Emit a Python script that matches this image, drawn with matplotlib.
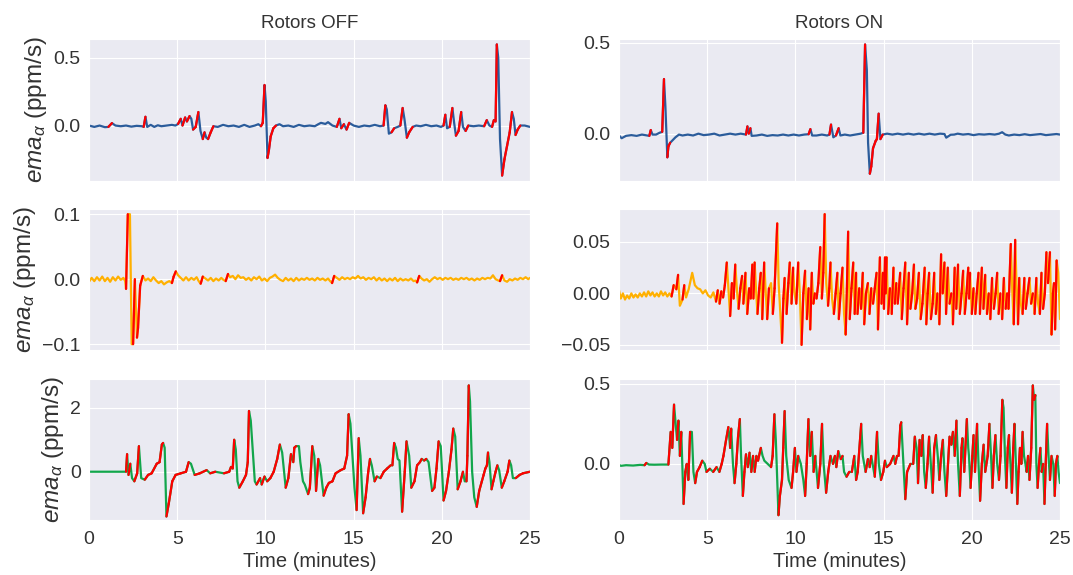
import numpy as np
import matplotlib.pyplot as plt
import seaborn as sns
from matplotlib.collections import LineCollection

# (time in minutes, ema value)
off_top = [(0.0, 0.0), (0.3, -0.01), (0.6, 0.0), (0.9, -0.012), (1.1, -0.01), (1.3, 0.018), (1.5, 0.0),
           (1.8, -0.005), (2.1, 0.0), (2.4, -0.008), (2.7, -0.002), (3.0, -0.005), (3.1, -0.01), (3.2, 0.065),
           (3.3, -0.01), (3.5, 0.005), (3.7, -0.01), (3.9, 0.002), (4.1, -0.005), (4.4, 0.0), (4.7, 0.005),
           (4.9, 0.0), (5.05, 0.012), (5.2, 0.05), (5.3, 0.0), (5.45, 0.06), (5.55, 0.03), (5.7, 0.07),
           (5.8, 0.05), (5.9, -0.03), (6.05, -0.01), (6.2, 0.1), (6.32, -0.04), (6.45, -0.1), (6.55, -0.05),
           (6.65, -0.09), (6.75, -0.1), (6.9, -0.05), (7.05, -0.005), (7.3, -0.01), (7.6, 0.005), (7.9, -0.005),
           (8.2, 0.0), (8.5, -0.01), (8.8, 0.005), (9.1, -0.01), (9.4, 0.0), (9.6, 0.01), (9.75, -0.005),
           (9.85, 0.02), (9.95, 0.3), (10.02, 0.18), (10.12, -0.24), (10.2, -0.18), (10.3, -0.08), (10.45, -0.02),
           (10.6, 0.0), (10.8, 0.01), (11.0, -0.005), (11.3, 0.0), (11.6, -0.01), (11.9, 0.005), (12.2, -0.005),
           (12.5, 0.0), (12.8, -0.005), (13.0, 0.01), (13.15, 0.02), (13.4, 0.012), (13.55, 0.025), (13.8, 0.0),
           (14.05, -0.01), (14.2, 0.05), (14.3, -0.02), (14.45, 0.01), (14.6, -0.03), (14.75, 0.02), (15.0, 0.0),
           (15.3, -0.01), (15.6, 0.0), (15.9, -0.005), (16.2, 0.005), (16.5, -0.005), (16.7, 0.0), (16.8, 0.15),
           (16.88, 0.12), (17.0, -0.06), (17.15, -0.05), (17.3, -0.02), (17.5, -0.01), (17.65, 0.0), (17.78, 0.13),
           (17.88, 0.05), (18.02, -0.09), (18.15, -0.05), (18.35, -0.01), (18.55, 0.0), (18.8, -0.005),
           (19.1, 0.005), (19.4, -0.005), (19.7, 0.0), (19.95, -0.01), (20.1, 0.0), (20.2, 0.08), (20.3, -0.02),
           (20.45, -0.01), (20.6, 0.13), (20.7, 0.02), (20.8, -0.075), (20.95, -0.04), (21.1, 0.1), (21.2, -0.01),
           (21.35, -0.04), (21.5, 0.0), (21.8, -0.005), (22.1, 0.0), (22.4, -0.005), (22.55, 0.04), (22.7, 0.0),
           (22.85, -0.01), (22.95, 0.04), (23.05, 0.03), (23.12, 0.6), (23.2, 0.5), (23.3, -0.1), (23.42, -0.37),
           (23.55, -0.25), (23.7, -0.15), (23.85, -0.05), (23.98, 0.1), (24.08, 0.05), (24.18, -0.07),
           (24.3, -0.03), (24.45, 0.0), (24.7, 0.0), (25.0, -0.01)]

on_top = [(0.0, -0.01), (0.15, -0.025), (0.4, -0.012), (0.7, -0.008), (1.0, -0.012), (1.3, -0.005), (1.6, -0.01),
          (1.72, -0.012), (1.8, 0.02), (1.9, -0.005), (2.1, -0.005), (2.3, 0.005), (2.45, 0.01), (2.55, 0.3),
          (2.63, 0.15), (2.74, -0.13), (2.8, -0.07), (2.9, -0.05), (3.05, -0.035), (3.2, -0.02), (3.4, -0.005),
          (3.6, -0.01), (3.9, -0.005), (4.2, -0.01), (4.5, 0.0), (4.8, -0.008), (5.1, -0.005), (5.4, 0.0),
          (5.7, -0.01), (6.0, -0.005), (6.3, 0.0), (6.6, -0.005), (6.9, 0.0), (7.2, -0.005), (7.28, 0.04),
          (7.36, 0.0), (7.45, 0.03), (7.52, -0.012), (7.8, -0.01), (8.1, -0.005), (8.4, -0.012), (8.7, -0.008),
          (9.0, -0.01), (9.3, -0.005), (9.6, -0.01), (9.9, -0.005), (10.2, -0.01), (10.5, -0.005), (10.75, -0.003),
          (10.85, 0.025), (10.95, -0.01), (11.2, -0.01), (11.5, -0.005), (11.8, -0.01), (11.93, -0.005),
          (12.02, 0.05), (12.15, -0.02), (12.3, -0.01), (12.45, 0.03), (12.55, -0.01), (12.8, -0.005),
          (13.1, -0.01), (13.4, -0.005), (13.7, 0.0), (13.85, 0.005), (13.95, 0.49), (14.05, 0.35), (14.12, -0.05),
          (14.22, -0.22), (14.3, -0.18), (14.4, -0.08), (14.55, -0.04), (14.62, -0.03), (14.72, 0.11),
          (14.82, -0.03), (14.95, -0.005), (15.2, 0.0), (15.5, -0.005), (15.8, 0.0), (16.1, -0.005), (16.4, 0.0),
          (16.7, -0.005), (17.0, 0.0), (17.3, -0.005), (17.6, 0.0), (17.9, -0.005), (18.2, 0.0), (18.45, -0.002),
          (18.55, -0.022), (18.8, -0.006), (19.0, -0.005), (19.2, 0.0), (19.5, -0.005), (19.8, -0.002),
          (20.1, -0.008), (20.4, -0.003), (20.7, -0.005), (21.0, -0.002), (21.3, -0.005), (21.55, 0.0),
          (21.72, 0.008), (21.9, -0.005), (22.1, -0.01), (22.4, -0.005), (22.7, -0.008), (23.0, -0.003),
          (23.3, -0.008), (23.6, -0.005), (23.9, -0.002), (24.2, -0.008), (24.5, -0.005), (24.8, -0.002),
          (25.0, -0.005)]

off_mid = [(0.0, -0.004), (0.15, 0.002), (0.3, -0.003), (0.45, 0.003), (0.6, -0.002), (0.75, 0.004), (0.9, -0.003),
           (1.05, 0.002), (1.2, -0.004), (1.35, 0.003), (1.5, -0.002), (1.65, 0.004), (1.8, -0.001), (1.95, 0.002),
           (2.05, -0.003), (2.1, -0.015), (2.2, 0.1), (2.32, 0.1), (2.42, -0.1), (2.5, -0.1), (2.6, 0.0),
           (2.72, -0.09), (2.78, -0.075), (2.9, -0.01), (3.05, 0.005), (3.2, -0.002), (3.35, 0.001), (3.5, -0.003),
           (3.65, 0.003), (3.8, -0.002), (3.95, -0.006), (4.1, -0.003), (4.25, -0.008), (4.4, -0.005),
           (4.55, -0.003), (4.7, -0.006), (4.8, 0.004), (4.92, 0.012), (5.05, 0.006), (5.2, 0.002), (5.35, -0.002),
           (5.5, 0.003), (5.65, -0.002), (5.8, 0.002), (5.95, -0.001), (6.1, 0.003), (6.22, -0.003), (6.33, -0.007),
           (6.45, 0.004), (6.6, 0.001), (6.75, -0.002), (6.9, 0.002), (7.05, -0.003), (7.2, 0.001), (7.35, -0.002),
           (7.5, 0.002), (7.62, -0.001), (7.75, -0.003), (7.88, 0.008), (8.0, 0.003), (8.15, 0.005), (8.3, 0.0),
           (8.45, 0.006), (8.6, 0.002), (8.75, 0.003), (8.9, -0.001), (9.05, 0.002), (9.2, -0.002), (9.35, 0.003),
           (9.5, 0.0), (9.65, 0.004), (9.8, -0.002), (9.95, 0.001), (10.1, -0.003), (10.25, 0.002), (10.4, 0.004),
           (10.55, 0.007), (10.7, 0.002), (10.85, -0.001), (11.0, -0.003), (11.15, 0.002), (11.3, -0.002),
           (11.45, 0.001), (11.6, -0.003), (11.75, 0.002), (11.9, -0.002), (12.05, 0.001), (12.2, -0.001),
           (12.35, 0.002), (12.5, -0.001), (12.65, 0.001), (12.8, -0.002), (12.95, 0.002), (13.1, -0.001),
           (13.25, 0.001), (13.4, -0.002), (13.55, 0.001), (13.67, -0.003), (13.78, -0.006), (13.9, 0.005),
           (14.05, 0.002), (14.2, -0.001), (14.35, 0.003), (14.5, 0.0), (14.65, 0.002), (14.8, 0.0), (14.95, 0.003),
           (15.1, 0.001), (15.25, 0.005), (15.4, 0.001), (15.55, 0.003), (15.7, -0.001), (15.85, 0.002),
           (16.0, 0.0), (16.15, 0.003), (16.3, -0.002), (16.45, 0.002), (16.6, -0.002), (16.75, 0.001),
           (16.9, -0.003), (17.05, 0.001), (17.2, -0.002), (17.35, 0.002), (17.5, -0.003), (17.65, 0.001),
           (17.8, -0.002), (17.95, 0.0), (18.1, -0.002), (18.25, 0.001), (18.4, -0.003), (18.5, -0.002),
           (18.6, -0.005), (18.72, 0.005), (18.85, 0.001), (19.0, -0.002), (19.15, 0.0), (19.3, -0.004),
           (19.45, 0.0), (19.6, 0.003), (19.75, 0.0), (19.9, 0.002), (20.05, -0.001), (20.2, 0.002), (20.35, 0.0),
           (20.5, 0.002), (20.65, -0.001), (20.8, 0.001), (20.95, -0.001), (21.1, 0.002), (21.25, 0.0),
           (21.4, 0.002), (21.55, -0.001), (21.7, 0.001), (21.85, -0.002), (22.0, 0.001), (22.15, -0.001),
           (22.3, 0.002), (22.45, 0.0), (22.6, 0.002), (22.75, 0.001), (22.9, 0.006), (23.05, 0.0), (23.2, -0.002),
           (23.3, -0.003), (23.42, 0.006), (23.55, -0.002), (23.7, -0.004), (23.85, 0.0), (24.0, -0.002),
           (24.15, 0.001), (24.3, -0.001), (24.45, 0.002), (24.6, 0.0), (24.75, 0.003), (24.9, 0.0), (25.0, 0.002)]

on_mid = [(0.0, 0.003), (0.1, -0.005), (0.22, 0.0), (0.34, -0.006), (0.46, -0.002), (0.58, -0.005), (0.7, 0.0),
          (0.82, -0.004), (0.94, -0.001), (1.06, -0.004), (1.18, 0.0), (1.3, -0.003), (1.42, 0.001), (1.54, -0.003),
          (1.66, 0.002), (1.78, -0.002), (1.9, 0.001), (2.02, -0.003), (2.14, 0.0), (2.26, -0.003), (2.38, 0.002),
          (2.5, -0.002), (2.62, 0.001), (2.74, -0.003), (2.86, 0.0), (2.98, -0.003), (3.1, 0.008), (3.25, 0.004),
          (3.35, 0.018), (3.45, -0.012), (3.6, -0.006), (3.7, 0.008), (3.8, -0.004), (3.95, 0.004), (4.15, 0.02),
          (4.3, 0.008), (4.45, 0.005), (4.6, 0.004), (4.75, 0.0), (4.9, 0.003), (5.05, -0.002), (5.2, -0.004),
          (5.35, 0.001), (5.5, -0.008), (5.6, 0.003), (5.7, -0.01), (5.8, 0.002), (5.9, -0.004), (6.0, 0.008),
          (6.11, 0.03), (6.2, 0.005), (6.3, -0.022), (6.4, 0.01), (6.5, -0.005), (6.59, 0.028), (6.7, 0.0),
          (6.78, -0.015), (6.88, 0.005), (6.98, 0.017), (7.05, -0.01), (7.17, 0.02), (7.27, -0.02), (7.38, 0.005),
          (7.47, -0.005), (7.56, 0.028), (7.62, -0.005), (7.69, 0.03), (7.78, 0.0), (7.85, -0.02), (7.95, 0.005),
          (8.04, 0.02), (8.12, -0.025), (8.23, 0.03), (8.32, 0.0), (8.4, -0.025), (8.5, 0.005), (8.62, 0.01),
          (8.72, -0.02), (8.82, 0.005), (8.97, 0.068), (9.05, 0.01), (9.15, -0.02), (9.24, -0.048), (9.32, -0.005),
          (9.39, 0.015), (9.5, -0.02), (9.6, 0.01), (9.68, 0.03), (9.78, -0.01), (9.87, 0.025), (9.95, 0.0),
          (10.05, -0.01), (10.16, 0.03), (10.25, 0.0), (10.35, -0.05), (10.45, 0.0), (10.55, 0.022),
          (10.65, -0.025), (10.75, 0.005), (10.84, -0.035), (10.93, 0.02), (11.02, -0.01), (11.1, 0.0),
          (11.2, -0.005), (11.3, 0.01), (11.41, 0.045), (11.5, -0.005), (11.58, 0.02), (11.66, 0.077),
          (11.75, 0.01), (11.85, -0.012), (11.92, 0.005), (11.99, 0.03), (12.08, -0.005), (12.18, -0.02),
          (12.28, 0.0), (12.38, 0.02), (12.46, -0.025), (12.56, 0.0), (12.67, 0.025), (12.76, -0.02),
          (12.85, -0.04), (12.92, 0.005), (12.99, 0.06), (13.08, -0.025), (13.18, 0.005), (13.28, 0.03),
          (13.36, -0.02), (13.44, 0.02), (13.52, -0.02), (13.62, 0.005), (13.72, -0.015), (13.82, 0.02),
          (13.9, -0.03), (14.0, 0.0), (14.11, 0.01), (14.2, -0.02), (14.3, 0.005), (14.4, -0.01), (14.5, 0.005),
          (14.6, 0.02), (14.68, -0.035), (14.79, 0.035), (14.88, -0.01), (14.96, 0.02), (15.02, -0.015),
          (15.08, 0.035), (15.12, 0.0), (15.17, 0.035), (15.26, -0.02), (15.36, 0.005), (15.46, -0.02),
          (15.56, 0.025), (15.64, -0.01), (15.72, 0.01), (15.8, -0.01), (15.94, 0.02), (16.03, -0.025),
          (16.13, 0.005), (16.23, 0.03), (16.33, -0.03), (16.43, 0.02), (16.52, -0.015), (16.62, 0.0),
          (16.72, 0.028), (16.8, -0.015), (16.9, -0.005), (17.0, 0.02), (17.1, -0.025), (17.2, -0.01),
          (17.33, 0.025), (17.42, -0.03), (17.5, 0.0), (17.58, 0.02), (17.68, -0.025), (17.78, -0.01),
          (17.87, 0.02), (17.96, -0.02), (18.05, 0.0), (18.16, -0.03), (18.26, 0.038), (18.35, 0.0), (18.45, 0.03),
          (18.54, -0.02), (18.64, 0.025), (18.74, -0.01), (18.84, 0.0), (18.93, -0.03), (19.03, 0.025),
          (19.12, -0.015), (19.22, 0.028), (19.32, -0.02), (19.42, 0.0), (19.51, 0.022), (19.6, -0.02),
          (19.7, 0.0), (19.8, 0.025), (19.85, -0.005), (19.9, 0.02), (20.0, -0.02), (20.1, 0.005), (20.2, -0.02),
          (20.28, 0.0), (20.38, 0.02), (20.46, -0.02), (20.57, 0.025), (20.66, -0.015), (20.76, 0.018),
          (20.86, -0.02), (20.96, 0.0), (21.05, -0.025), (21.15, 0.015), (21.25, -0.015), (21.35, 0.0),
          (21.44, 0.02), (21.52, -0.02), (21.62, 0.0), (21.72, -0.025), (21.82, 0.015), (21.92, -0.015),
          (22.0, 0.0), (22.08, -0.015), (22.21, 0.048), (22.3, 0.0), (22.38, -0.03), (22.46, 0.052),
          (22.56, -0.005), (22.62, -0.03), (22.69, 0.015), (22.78, -0.01), (22.88, -0.02), (22.98, 0.015),
          (23.06, -0.015), (23.16, 0.0), (23.27, 0.015), (23.36, -0.01), (23.46, 0.0), (23.56, -0.02),
          (23.66, 0.015), (23.76, -0.01), (23.86, -0.02), (23.95, 0.02), (24.04, -0.015), (24.14, 0.0),
          (24.23, 0.04), (24.32, 0.01), (24.43, 0.04), (24.52, -0.04), (24.6, 0.0), (24.66, 0.01), (24.72, -0.035),
          (24.81, 0.032), (24.9, 0.02), (25.0, -0.025)]

off_bot = [(0.0, 0.0), (2.1, 0.0), (2.16, 0.55), (2.24, -0.1), (2.34, 0.25), (2.44, -0.2), (2.57, -0.3),
           (2.73, -0.05), (2.83, 0.8), (2.96, -0.2), (3.16, -0.25), (3.35, -0.1), (3.55, -0.05), (3.84, 0.25),
           (4.0, 0.3), (4.13, 0.85), (4.2, 0.9), (4.29, 0.75), (4.39, -1.4), (4.52, -1.0), (4.72, -0.3),
           (4.91, -0.1), (5.2, -0.05), (5.5, 0.0), (5.65, 0.3), (5.78, 0.25), (5.99, -0.1), (6.28, -0.05),
           (6.67, 0.05), (6.87, -0.05), (7.16, 0.0), (7.65, -0.05), (7.95, 0.0), (8.05, 0.15), (8.15, 0.1),
           (8.23, 1.0), (8.32, 0.7), (8.42, -0.3), (8.52, -0.5), (8.72, -0.3), (8.9, -0.1), (9.0, 0.3), (9.07, 1.9),
           (9.17, 1.6), (9.4, -0.3), (9.5, -0.4), (9.7, -0.2), (9.79, -0.4), (9.95, -0.15), (10.1, -0.3),
           (10.28, -0.2), (10.47, 0.0), (10.67, 0.4), (10.82, 0.85), (10.95, 0.6), (11.15, -0.5), (11.3, -0.2),
           (11.45, 0.55), (11.58, 0.3), (11.64, 0.75), (11.74, 0.8), (11.9, 0.8), (11.98, 0.3), (12.13, -0.3),
           (12.23, -0.4), (12.42, -0.7), (12.52, -0.5), (12.66, 0.8), (12.77, 0.5), (12.87, -0.6), (13.0, 0.4),
           (13.1, 0.2), (13.3, -0.75), (13.45, -0.5), (13.6, -0.35), (13.8, -0.3), (13.98, -0.05), (14.27, 0.05),
           (14.47, 0.1), (14.63, 0.5), (14.72, 1.8), (14.82, 1.5), (15.05, -0.5), (15.17, -1.2), (15.29, 1.05),
           (15.39, 0.5), (15.54, -1.3), (15.68, -0.8), (15.83, 0.0), (15.93, 0.4), (16.03, 0.2), (16.19, -0.3),
           (16.32, -0.15), (16.52, -0.2), (16.71, 0.0), (16.9, 0.1), (17.1, 0.2), (17.2, 0.2), (17.3, 0.9),
           (17.4, 0.75), (17.5, 0.4), (17.6, 0.35), (17.75, -1.25), (17.9, 0.0), (18.0, 0.95), (18.15, 0.5),
           (18.27, -0.5), (18.45, -0.3), (18.6, 0.2), (18.76, 0.3), (18.86, 0.4), (19.0, 0.35), (19.12, 0.4),
           (19.25, 0.3), (19.45, -0.6), (19.58, -0.5), (19.7, 0.1), (19.82, 0.95), (19.94, 0.8), (20.1, -0.9),
           (20.24, -0.6), (20.4, 0.0), (20.55, 0.7), (20.65, 1.35), (20.76, 1.1), (20.9, -0.55), (21.06, -0.3),
           (21.2, 0.0), (21.3, -0.3), (21.4, -0.3), (21.45, 0.5), (21.53, 2.7), (21.6, 2.2), (21.72, 0.0),
           (21.84, -0.8), (21.98, -1.1), (22.12, -0.6), (22.27, -0.3), (22.37, -0.1), (22.47, 0.1), (22.56, 0.2),
           (22.62, 0.6), (22.7, 0.3), (22.82, -0.55), (22.92, -0.3), (23.05, 0.0), (23.15, 0.2), (23.25, 0.05),
           (23.4, -0.5), (23.54, -0.3), (23.73, 0.0), (23.83, 0.35), (23.93, 0.2), (24.03, -0.2), (24.19, -0.2),
           (24.41, -0.1), (24.6, -0.05), (25.0, 0.0)]

on_bot = [(0.0, -0.005), (0.1, -0.012), (0.4, -0.008), (0.8, -0.01), (1.2, -0.006), (1.45, -0.008), (1.55, 0.006),
          (1.7, -0.004), (2.0, -0.005), (2.4, -0.004), (2.8, -0.004), (2.93, 0.2), (3.02, 0.1), (3.12, 0.37),
          (3.21, 0.25), (3.29, 0.15), (3.37, 0.27), (3.45, 0.05), (3.53, 0.2), (3.6, -0.05), (3.66, -0.25),
          (3.76, -0.05), (3.84, 0.0), (3.93, -0.1), (4.03, 0.2), (4.13, 0.2), (4.22, -0.05), (4.32, -0.12),
          (4.42, -0.05), (4.57, -0.02), (4.72, 0.02), (4.86, 0.0), (4.96, -0.05), (5.15, -0.03), (5.34, -0.05),
          (5.53, -0.02), (5.69, -0.05), (5.82, 0.0), (5.92, 0.05), (6.07, 0.15), (6.2, 0.23), (6.3, 0.1),
          (6.36, 0.22), (6.46, 0.0), (6.55, -0.12), (6.65, 0.0), (6.75, 0.17), (6.85, 0.28), (6.92, 0.05),
          (7.02, -0.2), (7.11, -0.05), (7.2, 0.06), (7.3, -0.02), (7.4, 0.07), (7.5, -0.05), (7.6, 0.05),
          (7.69, -0.05), (7.79, 0.05), (7.88, 0.02), (8.04, 0.1), (8.14, 0.05), (8.24, 0.02), (8.43, 0.0),
          (8.62, -0.02), (8.71, 0.05), (8.81, 0.31), (8.89, 0.15), (8.97, -0.1), (9.04, -0.32), (9.12, -0.2),
          (9.24, -0.1), (9.31, 0.1), (9.39, 0.33), (9.48, 0.05), (9.62, -0.1), (9.78, -0.15), (9.87, -0.05),
          (9.97, 0.1), (10.06, -0.05), (10.16, 0.05), (10.31, 0.0), (10.45, -0.1), (10.55, -0.2), (10.64, 0.0),
          (10.74, 0.28), (10.84, 0.05), (10.93, 0.2), (11.03, -0.05), (11.13, 0.05), (11.28, -0.15), (11.41, 0.0),
          (11.51, 0.25), (11.6, 0.0), (11.74, -0.18), (11.86, -0.05), (11.99, 0.05), (12.13, 0.0), (12.24, 0.05),
          (12.32, -0.02), (12.43, 0.08), (12.57, 0.03), (12.67, 0.05), (12.76, -0.05), (12.9, -0.08),
          (13.05, -0.05), (13.2, -0.05), (13.34, 0.05), (13.44, -0.1), (13.53, -0.05), (13.73, 0.25), (13.82, 0.05),
          (13.98, -0.05), (14.11, 0.03), (14.21, -0.02), (14.3, 0.05), (14.5, -0.08), (14.63, 0.2), (14.73, 0.0),
          (14.85, -0.1), (14.98, -0.05), (15.08, 0.02), (15.18, -0.02), (15.37, 0.0), (15.56, 0.05), (15.66, 0.0),
          (15.76, 0.05), (15.85, 0.05), (15.95, 0.24), (16.0, 0.26), (16.1, 0.05), (16.23, -0.22), (16.33, -0.05),
          (16.52, 0.0), (16.68, 0.0), (16.77, 0.17), (16.87, 0.1), (16.95, -0.12), (17.04, 0.15), (17.14, 0.05),
          (17.22, 0.18), (17.3, -0.05), (17.39, -0.15), (17.49, 0.0), (17.58, 0.17), (17.68, 0.0), (17.78, -0.18),
          (17.87, 0.1), (17.97, 0.18), (18.07, 0.05), (18.16, -0.1), (18.26, 0.05), (18.36, 0.15), (18.45, -0.05),
          (18.55, -0.2), (18.65, 0.0), (18.74, 0.17), (18.84, 0.12), (18.93, 0.2), (19.03, 0.05), (19.13, 0.27),
          (19.22, 0.0), (19.32, -0.2), (19.42, 0.1), (19.47, 0.16), (19.57, -0.05), (19.72, 0.28), (19.8, 0.1),
          (19.84, 0.05), (19.93, -0.15), (20.03, 0.05), (20.1, 0.18), (20.18, -0.05), (20.3, 0.25), (20.38, 0.0),
          (20.47, -0.23), (20.57, 0.0), (20.67, 0.12), (20.76, -0.05), (20.9, 0.05), (21.0, 0.25), (21.09, 0.05),
          (21.17, -0.15), (21.25, 0.05), (21.34, 0.18), (21.44, 0.0), (21.54, -0.1), (21.63, 0.05), (21.73, 0.4),
          (21.8, 0.35), (21.88, 0.05), (21.96, -0.15), (22.04, 0.1), (22.11, 0.18), (22.19, 0.0), (22.27, -0.18),
          (22.35, 0.1), (22.42, 0.25), (22.5, 0.0), (22.58, -0.25), (22.65, -0.05), (22.73, 0.1), (22.81, 0.0),
          (22.88, 0.2), (22.96, 0.05), (23.04, 0.0), (23.11, -0.05), (23.19, 0.05), (23.27, -0.1), (23.37, 0.1),
          (23.46, 0.49), (23.54, 0.4), (23.6, 0.43), (23.66, 0.0), (23.73, -0.15), (23.81, 0.0), (23.89, 0.1),
          (23.96, -0.05), (24.04, 0.0), (24.12, -0.25), (24.19, 0.0), (24.27, 0.25), (24.35, 0.05), (24.43, -0.1),
          (24.52, 0.05), (24.62, 0.0), (24.7, -0.2), (24.77, 0.0), (24.85, 0.05), (24.92, -0.05), (25.0, -0.12)]

col_titles = ['Rotors OFF', 'Rotors ON']
ylims = [[(-0.41, 0.64), (-0.26, 0.52)],
         [(-0.109, 0.108), (-0.055, 0.082)],
         [(-1.51, 2.9), (-0.35, 0.53)]]
yticks = [[[0.0, 0.5], [0.0, 0.5]],
          [[-0.1, 0.0, 0.1], [-0.05, 0.0, 0.05]],
          [[0, 2], [0.0, 0.5]]]
ytick_fmt = [['%.1f', '%.1f'], ['%.1f', '%.2f'], ['%d', '%.1f']]
# minimum slope (per minute) for a stretch to be flagged red
rise_thr = [[0.09, 0.12], [0.06, 0.08], [0.0, 0.05]]
row_colors = ['#2b5c9b', '#ffb000', '#12a64c']
RED = '#ff0000'

sns.set_style('darkgrid')
plt.rcParams['font.family'] = ['Liberation Sans', 'DejaVu Sans']
plt.rcParams['mathtext.fontset'] = 'custom'
plt.rcParams['mathtext.it'] = 'Liberation Sans:italic'
plt.rcParams['mathtext.rm'] = 'Liberation Sans'


def draw(ax, pts, color, thr):
    t, y = np.array(pts).T
    ax.plot(t, y, color=color, lw=1.6, solid_joinstyle='round')
    slope = np.diff(y) / np.diff(t)
    idx = np.where(slope > thr)[0]
    segs = [[(t[i], y[i]), (t[i + 1], y[i + 1])] for i in idx]
    ax.add_collection(LineCollection(segs, colors=RED, linewidths=1.6, capstyle='round'))


fig = plt.figure(figsize=(10.73, 5.75), dpi=100)
W, H = 1073, 575
col_left = [89, 619]
row_top = [39, 209, 379]
row_bot = [181, 350, 520]
series = [[off_top, on_top], [off_mid, on_mid], [off_bot, on_bot]]

for r in range(3):
    for c in range(2):
        ax = fig.add_axes([col_left[c] / W, 1 - row_bot[r] / H, 441 / W, (row_bot[r] - row_top[r]) / H])
        draw(ax, series[r][c], row_colors[r], rise_thr[r][c])
        ax.set_xlim(0, 25)
        ax.set_ylim(*ylims[r][c])
        ax.set_xticks([0, 5, 10, 15, 20, 25])
        ax.set_yticks(yticks[r][c])
        ax.set_yticklabels([(ytick_fmt[r][c] % v).replace('-', '\u2212') for v in yticks[r][c]])
        ax.tick_params(axis='both', length=0, labelsize=14, colors='#333333')
        ax.tick_params(axis='y', pad=6)
        ax.tick_params(axis='x', pad=8)
        if r < 2:
            ax.tick_params(labelbottom=False)
        else:
            ax.set_xlabel('Time (minutes)', fontsize=14.5, color='#333333', labelpad=3)
        if r == 0:
            ax.set_title(col_titles[c], fontsize=13.5, color='#333333', pad=8)
        if c == 0:
            ax.set_ylabel(r'$ema_{\alpha}$ (ppm/s)', fontsize=17.5, color='#333333', labelpad=3)

fig.savefig('out.png', dpi=100)
